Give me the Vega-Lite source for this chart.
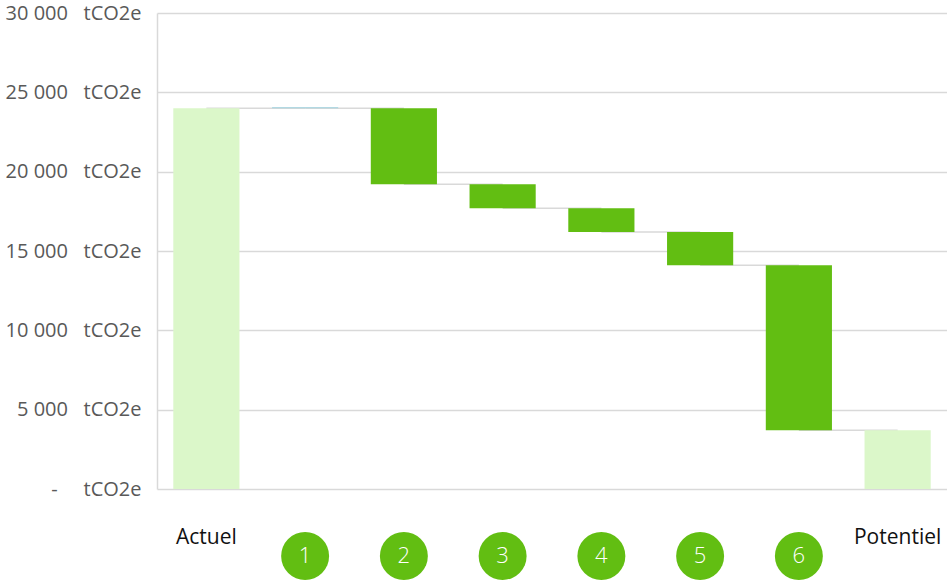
{
  "$schema": "https://vega.github.io/schema/vega-lite/v6.json",
  "background": "white",
  "padding": {"left": 5, "top": 3, "right": 0, "bottom": 0},
  "spacing": 27,
  "config": {"view": {"stroke": null}, "font": "Open Sans"},
  "datasets": {
    "steps": [
      {"cat": "Actuel", "start": 0, "end": 24000, "next": "1", "level": 24000, "kind": "total"},
      {"cat": "1", "start": 24000, "end": 24060, "next": "2", "level": 24000, "kind": "tiny"},
      {"cat": "2", "start": 24000, "end": 19200, "next": "3", "level": 19200, "kind": "step"},
      {"cat": "3", "start": 19200, "end": 17700, "next": "4", "level": 17700, "kind": "step"},
      {"cat": "4", "start": 17700, "end": 16200, "next": "5", "level": 16200, "kind": "step"},
      {"cat": "5", "start": 16200, "end": 14100, "next": "6", "level": 14100, "kind": "step"},
      {"cat": "6", "start": 14100, "end": 3700, "next": "Potentiel", "level": 3700, "kind": "step"},
      {"cat": "Potentiel", "start": 0, "end": 3700, "next": null, "level": null, "kind": "total"}
    ]
  },
  "vconcat": [
    {
      "width": 790,
      "height": 476,
      "data": {"name": "steps"},
      "encoding": {
        "x": {
          "field": "cat", "type": "nominal", "sort": null,
          "scale": {"domain": ["Actuel", "1", "2", "3", "4", "5", "6", "Potentiel"], "paddingInner": 0.33, "paddingOuter": 0.165},
          "axis": null
        }
      },
      "layer": [
        {
          "transform": [{"filter": "datum.next != null"}],
          "mark": {"type": "rule", "color": "#d9d9d9", "strokeWidth": 1.5},
          "encoding": {
            "x2": {"field": "next"},
            "y": {"field": "level", "type": "quantitative"}
          }
        },
        {
          "mark": {"type": "bar"},
          "encoding": {
            "y": {
              "field": "start", "type": "quantitative",
              "scale": {"domain": [0, 30000], "nice": false},
              "axis": {
                "title": null,
                "values": [0, 5000, 10000, 15000, 20000, 25000, 30000],
                "labelExpr": "datum.value == 0 ? '-\u00a0\u00a0\u00a0\u00a0\u00a0tCO2e' : replace(format(datum.value, ','), ',', ' ') + '\u00a0\u00a0\u00a0tCO2e'",
                "labelFontSize": 20,
                "labelColor": "#595959",
                "labelPadding": 16,
                "ticks": false,
                "domain": true,
                "domainColor": "#d9d9d9",
                "domainWidth": 1.5,
                "grid": true,
                "gridColor": "#d9d9d9",
                "gridWidth": 1.5
              }
            },
            "y2": {"field": "end"},
            "color": {
              "field": "kind", "type": "nominal",
              "scale": {"domain": ["total", "tiny", "step"], "range": ["#dbf7c9", "#9fd3e0", "#62be12"]},
              "legend": null
            }
          }
        }
      ]
    },
    {
      "width": 790,
      "height": 60,
      "data": {"name": "steps"},
      "encoding": {
        "x": {
          "field": "cat", "type": "nominal", "sort": null,
          "scale": {"domain": ["Actuel", "1", "2", "3", "4", "5", "6", "Potentiel"], "paddingInner": 0.33, "paddingOuter": 0.165},
          "axis": null
        }
      },
      "layer": [
        {
          "transform": [{"filter": "datum.kind != 'total'"}],
          "mark": {"type": "point", "filled": true, "size": 2300, "color": "#62be12", "opacity": 1},
          "encoding": {}
        },
        {
          "transform": [{"filter": "datum.kind != 'total'"}],
          "mark": {"type": "text", "color": "white", "fontSize": 22, "fontWeight": 300, "baseline": "middle"},
          "encoding": {"text": {"field": "cat"}}
        },
        {
          "transform": [{"filter": "datum.kind == 'total'"}],
          "mark": {"type": "text", "color": "#111111", "fontSize": 21, "baseline": "middle", "dy": -18},
          "encoding": {"text": {"field": "cat"}}
        }
      ]
    }
  ]
}
